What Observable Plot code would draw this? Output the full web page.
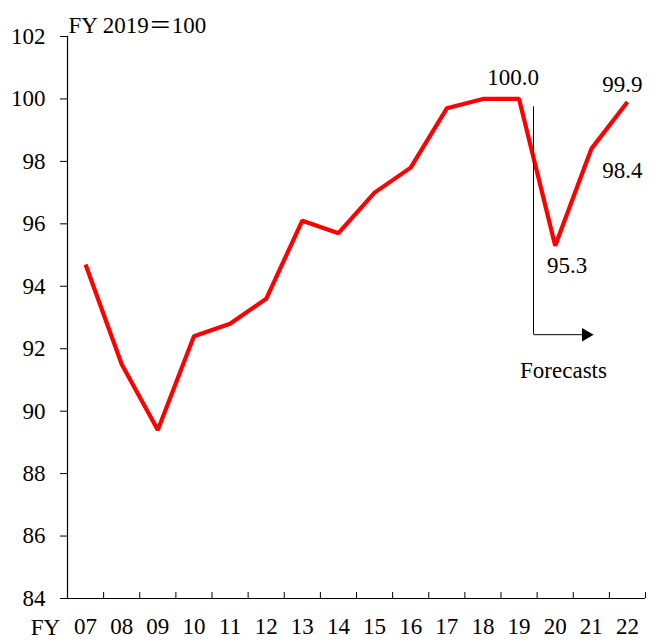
<!DOCTYPE html>
<html>
<head>
<meta charset="utf-8">
<script src="https://cdn.jsdelivr.net/npm/d3@7"></script>
<script src="https://cdn.jsdelivr.net/npm/@observablehq/plot@0.6"></script>
<style>
  html, body { margin: 0; padding: 0; background: #fff; }
  svg text { font-variant-numeric: normal !important; font-variant: normal !important; }
</style>
</head>
<body>
<div id="chart"></div>
<script>
// Fiscal years (categories)
const years = ["07","08","09","10","11","12","13","14","15","16","17","18","19","20","21","22"];
// Index, FY2019 = 100
const values = [94.7, 91.5, 89.4, 92.4, 92.8, 93.6, 96.1, 95.7, 97.0, 97.8, 99.7, 100.0, 100.0, 95.3, 98.4, 99.9];
// Y tick values
const yTicks = [84, 86, 88, 90, 92, 94, 96, 98, 100, 102];
// Labelled points: year, label text, offsets
const labelYears = ["19", "20", "21", "22"];
const labelTexts = ["100.0", "95.3", "98.4", "99.9"];
const labelDx = [-6, 12, 31, -5];
const labelDy = [-21, 20, 22, -17];
// Forecast marker (category-position units / index units)
const forecastX = [12.9];
const forecastTop = [99.75];
const forecastBottom = [92.45];
const forecastArrowEnd = [14.35];
const forecastLabelX = [13.73];
const forecastLabelY = [91.3];

const rows = years.map((y, i) => ({year: y, pos: i + 0.5, value: values[i]}));
const boundaries = d3.range(0, years.length + 1);
const labels = labelYears.map((y, k) => {
  const i = years.indexOf(y);
  return {pos: i + 0.5, value: values[i], text: labelTexts[k], dx: labelDx[k], dy: labelDy[k]};
});
const serif = "'Liberation Serif', 'Times New Roman', 'Noto Sans CJK JP', serif";
const fs = 23;

const chart = Plot.plot({
  width: 656,
  height: 641,
  marginLeft: 67,
  marginRight: 11,
  marginTop: 36,
  marginBottom: 43,
  style: {fontFamily: serif, fontSize: fs + "px", color: "#000", background: "#fff"},
  x: {type: "linear", domain: [0, years.length]},
  y: {domain: [84, 102]},
  marks: [
    Plot.axisY(yTicks, {tickSize: 7, tickPadding: 15, fontSize: fs, fontFamily: serif, label: null}),
    Plot.tickX(boundaries, {x: d => d, insetTop: 556, stroke: "#000", strokeWidth: 1}),
    Plot.axisX(rows.map(d => d.pos), {tickSize: 0, tickPadding: 19, tickFormat: d => years[Math.floor(d)], fontSize: fs, fontFamily: serif, label: null}),
    Plot.ruleX([0], {stroke: "#000", strokeWidth: 1.2}),
    Plot.ruleY([84], {stroke: "#000", strokeWidth: 1.2}),
    Plot.line(rows, {x: "pos", y: "value", stroke: "#ff0000", strokeWidth: 4.2, strokeLinejoin: "miter", strokeLinecap: "butt"}),
    ...labels.map(l => Plot.text([l], {x: "pos", y: "value", text: "text", dx: l.dx, dy: l.dy, fontSize: fs, fontFamily: serif})),
    Plot.ruleX(forecastX, {y1: forecastTop[0], y2: forecastBottom[0], stroke: "#000", strokeWidth: 1}),
    Plot.link(forecastX, {x1: d => d, x2: forecastArrowEnd[0], y1: forecastBottom[0], y2: forecastBottom[0], stroke: "#000", strokeWidth: 1}),
    Plot.dot(forecastArrowEnd, {x: d => d, y: forecastBottom[0], symbol: "triangle", rotate: 90, r: 5, fill: "#000", stroke: null}),
    Plot.text(["Forecasts"], {x: forecastLabelX[0], y: forecastLabelY[0], text: d => d, fontSize: fs, fontFamily: serif}),
    Plot.text(["FY 2019＝100"], {frameAnchor: "top-left", textAnchor: "start", lineAnchor: "bottom", dx: 1, dy: -4, fontSize: fs, fontFamily: serif}),
    Plot.text(["FY"], {frameAnchor: "bottom-left", textAnchor: "middle", dx: -22, dy: 36, fontSize: fs, fontFamily: serif})
  ]
});
document.getElementById("chart").appendChild(chart);
</script>
</body>
</html>
